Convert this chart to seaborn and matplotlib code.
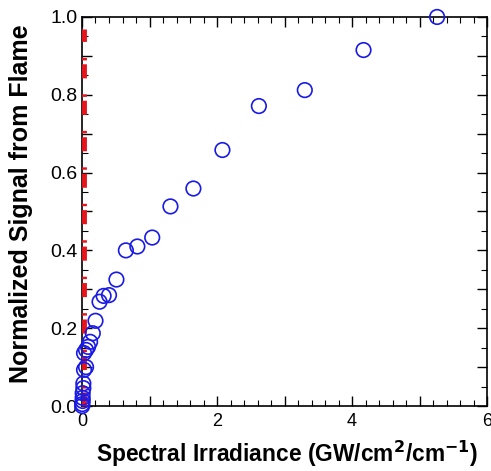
import matplotlib
matplotlib.use("Agg")
import matplotlib.pyplot as plt
import seaborn as sns
import pandas as pd
from matplotlib.ticker import MultipleLocator, FuncFormatter

irradiance = [5.26, 4.17, 3.30, 2.62, 2.08, 1.65, 1.31, 1.04, 0.82, 0.65, 0.51, 0.40,
              0.32, 0.26, 0.20, 0.16, 0.12, 0.09, 0.06, 0.03, 0.06, 0.03, 0.02, 0.02,
              0.01, 0.01, 0.01, 0.005, 0.003]
signal = [1.0, 0.915, 0.812, 0.771, 0.658, 0.559, 0.513, 0.433, 0.41, 0.40, 0.325, 0.285,
          0.283, 0.268, 0.219, 0.187, 0.165, 0.152, 0.144, 0.136, 0.10, 0.093, 0.058, 0.046,
          0.033, 0.021, 0.013, 0.005, 0.0]
line_x = [0.025, 0.025]
line_y = [0.0, 0.97]

sns.set_theme(style="ticks")
plt.rcParams['font.family'] = ['Liberation Sans', 'DejaVu Sans']
plt.rcParams['text.color'] = 'black'
plt.rcParams['axes.labelcolor'] = 'black'
plt.rcParams['xtick.color'] = 'black'
plt.rcParams['ytick.color'] = 'black'

fig = plt.figure(figsize=(4.91, 4.71), dpi=100)
ax = fig.add_axes([0.167, 0.138, 0.825, 0.826])

df = pd.DataFrame({"x": irradiance, "y": signal})
sns.scatterplot(data=df, x="x", y="y", ax=ax, marker="o", s=110,
                facecolors="none", edgecolor="#1a1ae6", linewidth=1.2,
                clip_on=False, zorder=4)
ax.plot(line_x, line_y, color="#e8141c", linewidth=3.5,
        linestyle=(0, (2.9, 0.8, 0.5, 3.3)), zorder=3, clip_on=False)

ax.set_xlim(0, 6)
ax.set_ylim(0, 1)
ax.xaxis.set_major_locator(MultipleLocator(1))
ax.xaxis.set_minor_locator(MultipleLocator(0.2))
ax.xaxis.set_major_formatter(FuncFormatter(lambda v, p: f"{int(round(v))}" if int(round(v)) % 2 == 0 else ""))
ax.yaxis.set_major_locator(MultipleLocator(0.1))
ax.yaxis.set_minor_locator(MultipleLocator(0.05))
ax.yaxis.set_major_formatter(FuncFormatter(lambda v, p: f"{v:.1f}" if int(round(v * 10)) % 2 == 0 else ""))
ax.tick_params(which="both", direction="in", top=True, right=True, color="black")
ax.tick_params(which="major", length=7, width=1, pad=4)
ax.tick_params(axis="x", which="major", labelsize=13, pad=5)
ax.tick_params(axis="y", which="major", labelsize=14, pad=3)
ax.tick_params(which="minor", length=4, width=0.8)
for s in ax.spines.values():
    s.set_linewidth(1.2)
    s.set_color("black")
    s.set_zorder(2)

ax.set_xlabel("Spectral Irradiance (GW/cm$^\\mathbf{2}$/cm$^\\mathbf{-1}$)", fontsize=16.4,
              fontweight="bold")
ax.xaxis.set_label_coords(0.505, -0.085)
ax.set_ylabel("Normalized Signal from Flame", fontsize=18, fontweight="bold")
ax.yaxis.set_label_coords(-0.12, 0.52)

fig.savefig("out.png", dpi=100)
